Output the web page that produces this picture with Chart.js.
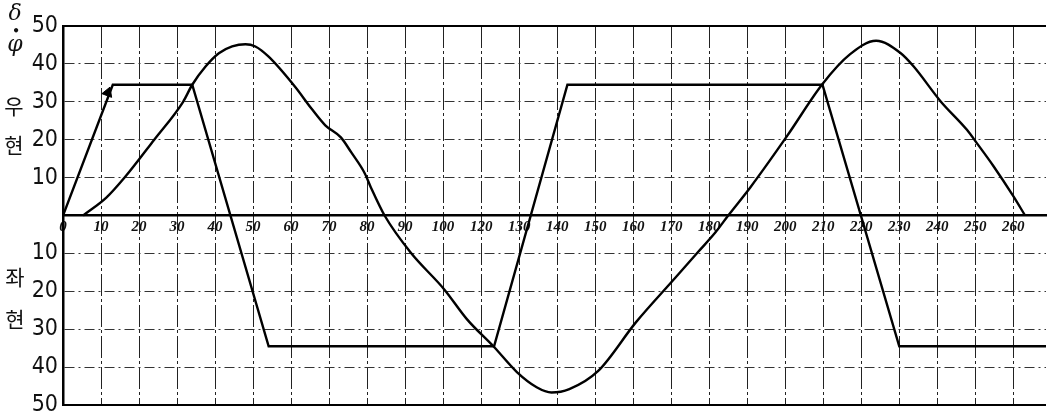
<!DOCTYPE html>
<html>
<head>
<meta charset="utf-8">
<script src="https://cdn.jsdelivr.net/npm/chart.js@4.4.0/dist/chart.umd.min.js"></script>
<style>
  html, body { margin: 0; padding: 0; background: #ffffff; }
  #wrap { width: 1053px; height: 412px; position: relative; }
</style>
</head>
<body>
<div id="wrap"><canvas id="c" width="1053" height="412"></canvas></div>
<script>
// ---- data (x in grid units: one grid column = 10) ----
const xTickLabels = ['0','10','20','30','40','50','60','70','80','90','100','120','130','140','150','160','170','180','190','200','210','220','230','240','250','260'];
const yTickLabels = ['50','40','30','20','10','','10','20','30','40','50']; // top to bottom

// rudder angle δ (trapezoid)
const rudderTime  = [0, 13.1, 34.0, 54.1, 113.4, 132.7, 199.8, 220.0, 258.6];
const rudderAngle = [0, 34.5, 34.5, -34.5, -34.5, 34.5, 34.5, -34.5, -34.5];

// heading φ
const headingTime  = [5.3, 11.4, 16.2, 24.0, 31.6, 34.0, 37.5, 41.0, 44.5, 48.0, 50.6, 54.1, 61.1, 65.3, 69.0, 73.1, 75.8, 79.4, 81.0, 84.6,
                      91.4, 100.3, 106.3, 113.4, 119.4, 124.6, 128.5, 133.2, 140.8, 150.7, 161.2, 167.0, 171.6, 175.0,
                      180.8, 190.5, 199.8, 207.0, 213.9, 220.4, 223.8, 230.9, 237.8, 240.4, 244.8, 250.0, 253.1];
const headingAngle = [0, 4.7, 10.0, 20.0, 30.0, 34.5, 39.3, 42.8, 44.6, 45.2, 44.6, 41.9, 33.9, 28.3, 23.8, 20.6, 16.7, 11.1, 7.4, 0,
                      -9.7, -19.5, -27.4, -34.7, -41.3, -45.3, -46.7, -45.8, -41.0, -28.2, -16.3, -9.7, -4.5, 0,
                      7.4, 21.0, 34.7, 42.5, 46.1, 42.8, 39.3, 30.1, 22.6, 19.1, 13.0, 5.1, 0];

// arrow head on the first rudder stroke
const arrowTime  = [11.8];
const arrowAngle = [32.4];

const zip = (xs, ys) => xs.map((x, i) => ({ x: x, y: ys[i] }));

const sidePlugin = {
  id: 'side',
  beforeDatasetsDraw(chart) {
    const { ctx, chartArea: { left, right, top, bottom } } = chart;
    ctx.save();
    ctx.strokeStyle = '#000';
    ctx.lineWidth = 2;
    ctx.beginPath();
    ctx.moveTo(left, top); ctx.lineTo(right, top);
    ctx.moveTo(left, bottom); ctx.lineTo(right, bottom);
    ctx.stroke();
    ctx.restore();
  },
  afterDraw(chart) {
    const { ctx } = chart;
    const ys = chart.scales.y;
    ctx.save();
    ctx.fillStyle = '#111';
    ctx.textAlign = 'center';
    ctx.textBaseline = 'middle';
    ctx.font = 'italic 22px "DejaVu Serif"';
    ctx.fillText('δ', 15, ys.getPixelForValue(53.2));
    ctx.font = 'bold 12px "DejaVu Sans"';
    ctx.fillText('•', 16, ys.getPixelForValue(48.5));
    ctx.font = 'italic 22px "DejaVu Serif"';
    ctx.fillText('φ', 15, ys.getPixelForValue(45));
    ctx.font = '21px "Noto Sans CJK KR", "Noto Sans CJK SC", sans-serif';
    ctx.fillText('우', 14, ys.getPixelForValue(28.9));
    ctx.fillText('현', 14, ys.getPixelForValue(18.7));
    ctx.fillText('좌', 15, ys.getPixelForValue(-16.3));
    ctx.fillText('현', 15, ys.getPixelForValue(-27.4));
    ctx.restore();
  }
};

new Chart(document.getElementById('c'), {
  type: 'scatter',
  data: {
    datasets: [
      {
        label: 'δ',
        data: zip(rudderTime, rudderAngle),
        showLine: true,
        borderColor: '#000',
        borderWidth: 2.4,
        pointRadius: 0,
        tension: 0
      },
      {
        label: 'φ',
        data: zip(headingTime, headingAngle),
        showLine: true,
        borderColor: '#000',
        borderWidth: 2.4,
        pointRadius: 0,
        cubicInterpolationMode: 'monotone'
      },
      {
        label: 'arrow',
        data: zip(arrowTime, arrowAngle),
        showLine: false,
        pointStyle: 'triangle',
        rotation: 21,
        pointRadius: 6,
        backgroundColor: '#000',
        borderColor: '#000',
        borderWidth: 1
      }
    ]
  },
  options: {
    responsive: false,
    animation: false,
    layout: { padding: { top: 26, bottom: 6, left: 0, right: 0 } },
    plugins: { legend: { display: false }, tooltip: { enabled: false } },
    scales: {
      x: {
        type: 'linear',
        position: { y: 0 },
        min: 0,
        max: 258.6,
        afterFit: (s) => { s.height = 0; s.paddingLeft = 0; s.paddingRight = 0; },
        ticks: {
          stepSize: 10,
          includeBounds: false,
          maxRotation: 0,
          autoSkip: false,
          padding: 3,
          color: '#111',
          font: { family: '"Liberation Serif", "DejaVu Serif", serif', size: 15, style: 'italic', weight: 'bold' },
          callback: (v) => { const i = Math.round(v / 10); return (Math.abs(v - i * 10) < 1e-6 && xTickLabels[i] !== undefined) ? xTickLabels[i] : ''; }
        },
        grid: { color: '#222', lineWidth: 1, drawTicks: false },
        border: { display: true, color: '#000', width: 2.5, dash: [22, 3, 3, 3] }
      },
      y: {
        type: 'linear',
        min: -50,
        max: 50,
        afterFit: (s) => { s.width = 63; s.paddingTop = 0; s.paddingBottom = 0; },
        ticks: {
          stepSize: 10,
          padding: 5,
          color: '#111',
          font: { family: '"Liberation Sans Narrow", "DejaVu Sans Condensed", "Liberation Sans", sans-serif', size: 23 },
          callback: (v) => { const i = Math.round((50 - v) / 10); return yTickLabels[i]; }
        },
        grid: {
          color: (c) => (c.tick && c.tick.value === 0) ? 'rgba(0,0,0,0)' : '#333',
          lineWidth: 1,
          drawTicks: false
        },
        border: { display: true, color: '#000', width: 2.5, dash: [10, 4, 2, 4] }
      }
    }
  },
  plugins: [sidePlugin]
});
</script>
</body>
</html>
